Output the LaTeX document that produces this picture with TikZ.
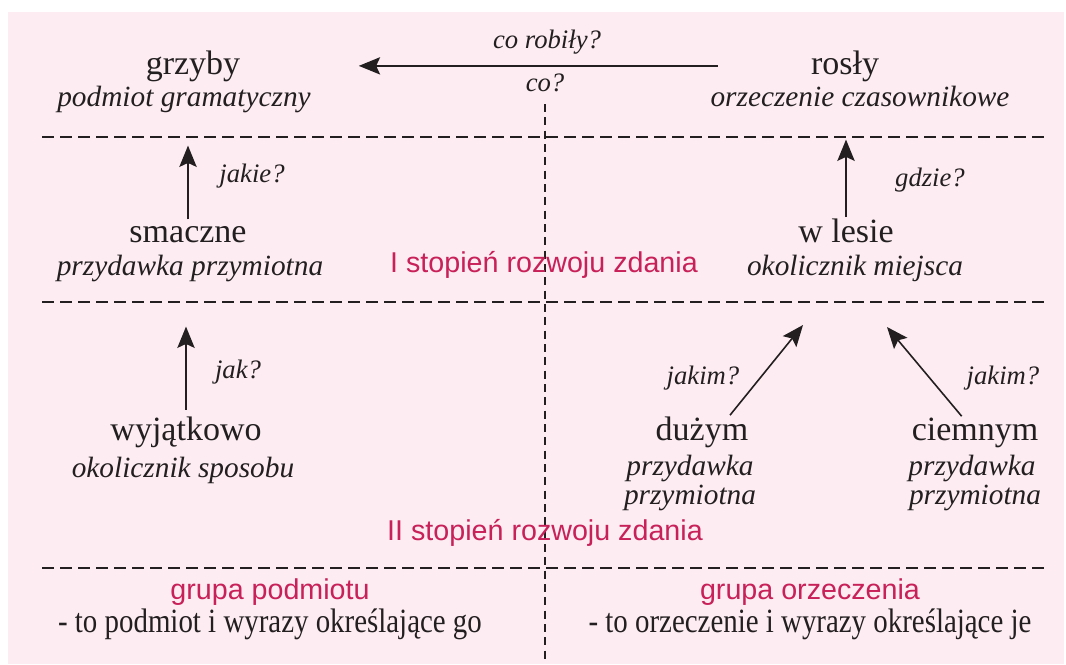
\documentclass[tikz,border=0pt]{standalone}
\usepackage{fontspec}
\setmainfont{Liberation Serif}
\newfontfamily\sansf{Liberation Sans}
\newfontfamily\condf[FakeStretch=0.85]{Liberation Serif}
\usetikzlibrary{arrows.meta}
\definecolor{bgpink}{RGB}{253,237,242}
\definecolor{crimson}{RGB}{200,32,88}
\definecolor{ink}{RGB}{35,31,32}
\begin{document}
\begin{tikzpicture}[x=0.75pt,y=0.75pt,yscale=-1,
  word/.style={anchor=base,inner sep=0.75pt,text=ink,font=\fontsize{25.5}{28}\selectfont},
  role/.style={anchor=base,inner sep=0.75pt,text=ink,font=\fontsize{22}{24}\selectfont\itshape},
  ask/.style={anchor=base,inner sep=0.75pt,text=ink,font=\fontsize{20}{22}\selectfont\itshape},
  degree/.style={anchor=base,inner sep=0.75pt,text=crimson,font=\sansf\fontsize{21.5}{24}\selectfont},
  note/.style={anchor=base,inner sep=0.75pt,text=ink,font=\condf\fontsize{25.5}{28}\selectfont},
  sep/.style={draw=ink,line width=1.1pt,dash pattern=on 9pt off 4.5pt},
  vsep/.style={draw=ink,line width=1.1pt,dash pattern=on 6pt off 4pt},
  arr/.style={draw=ink,line width=1.2pt,-{Stealth[length=16pt,width=13pt,inset=3pt]}}]
\useasboundingbox (0,0) rectangle (1066,664);
%Shape: Rectangle
\fill[bgpink] (8,12) rectangle (1064,664);

%Straight Lines
\draw[sep] (42,137) -- (1045,137);
\draw[sep] (42,302) -- (1045,302);
\draw[sep] (42,568) -- (1045,568);
\draw[vsep] (545,104) -- (545,662);

% Text Node
\node[word] (grzyby) at (193,74) {grzyby};
\node[role] (grzybyR) at (184,106) {podmiot gramatyczny};
% Text Node
\node[word] (rosly) at (845,74) {rosły};
\node[role] (roslyR) at (860,106) {orzeczenie czasownikowe};
% Text Node
\node[ask] (coRob) at (547,48) {co robiły?};
\node[ask] (co) at (545,91) {co?};
% Text Node
\node[word] (smaczne) at (188,242) {smaczne};
\node[role] (smaczneR) at (190,275) {przydawka przymiotna};
\node[ask] (jakie) at (252,182) {jakie?};
% Text Node
\node[word] (wlesie) at (846,242) {w lesie};
\node[role] (wlesieR) at (855,275) {okolicznik miejsca};
\node[ask] (gdzie) at (930,186) {gdzie?};
% Text Node
\node[degree] (stopienI) at (544,272) {I stopień rozwoju zdania};
% Text Node
\node[word] (wyjatkowo) at (186,440) {wyjątkowo};
\node[role] (wyjatkowoR) at (183,477) {okolicznik sposobu};
\node[ask] (jak) at (238,378) {jak?};
% Text Node
\node[word] (duzym) at (702,440) {dużym};
\node[role] (duzymRa) at (690,475) {przydawka};
\node[role] (duzymRb) at (690,504) {przymiotna};
\node[ask] (jakimL) at (703,384) {jakim?};
% Text Node
\node[word] (ciemnym) at (975,440) {ciemnym};
\node[role] (ciemnymRa) at (972,475) {przydawka};
\node[role] (ciemnymRb) at (975,504) {przymiotna};
\node[ask] (jakimR) at (1003,384) {jakim?};
% Text Node
\node[degree] (stopienII) at (545,540) {II stopień rozwoju zdania};
% Text Node
\node[degree] (grupaP) at (270,599) {grupa podmiotu};
\node[note] (grupaPtxt) at (270,632) {- to podmiot i wyrazy określające go};
\node[degree] (grupaO) at (810,599) {grupa orzeczenia};
\node[note] (grupaOtxt) at (810,632) {- to orzeczenie i wyrazy określające je};

%Straight Lines
\coordinate (tipL) at (803,325);
\coordinate (tipR) at (887,327);
\draw[arr,shorten <=69pt,shorten >=88pt] (rosly.west) -- (grzyby.east);
\draw[arr,shorten <=4pt,shorten >=24pt] (smaczne.north) -- (smaczne.north |- grzybyR.south);
\draw[arr,shorten >=24pt] (wlesie.north) -- (wlesie.north |- roslyR.south);
\draw[arr,shorten <=4pt,shorten >=33pt] (wyjatkowo.north) -- (wyjatkowo.north |- smaczneR.south);
\draw[arr] ([xshift=21pt]duzym.north) -- (tipL);
\draw[arr] ([xshift=-10pt]ciemnym.north) -- (tipR);

\end{tikzpicture}
\end{document}
